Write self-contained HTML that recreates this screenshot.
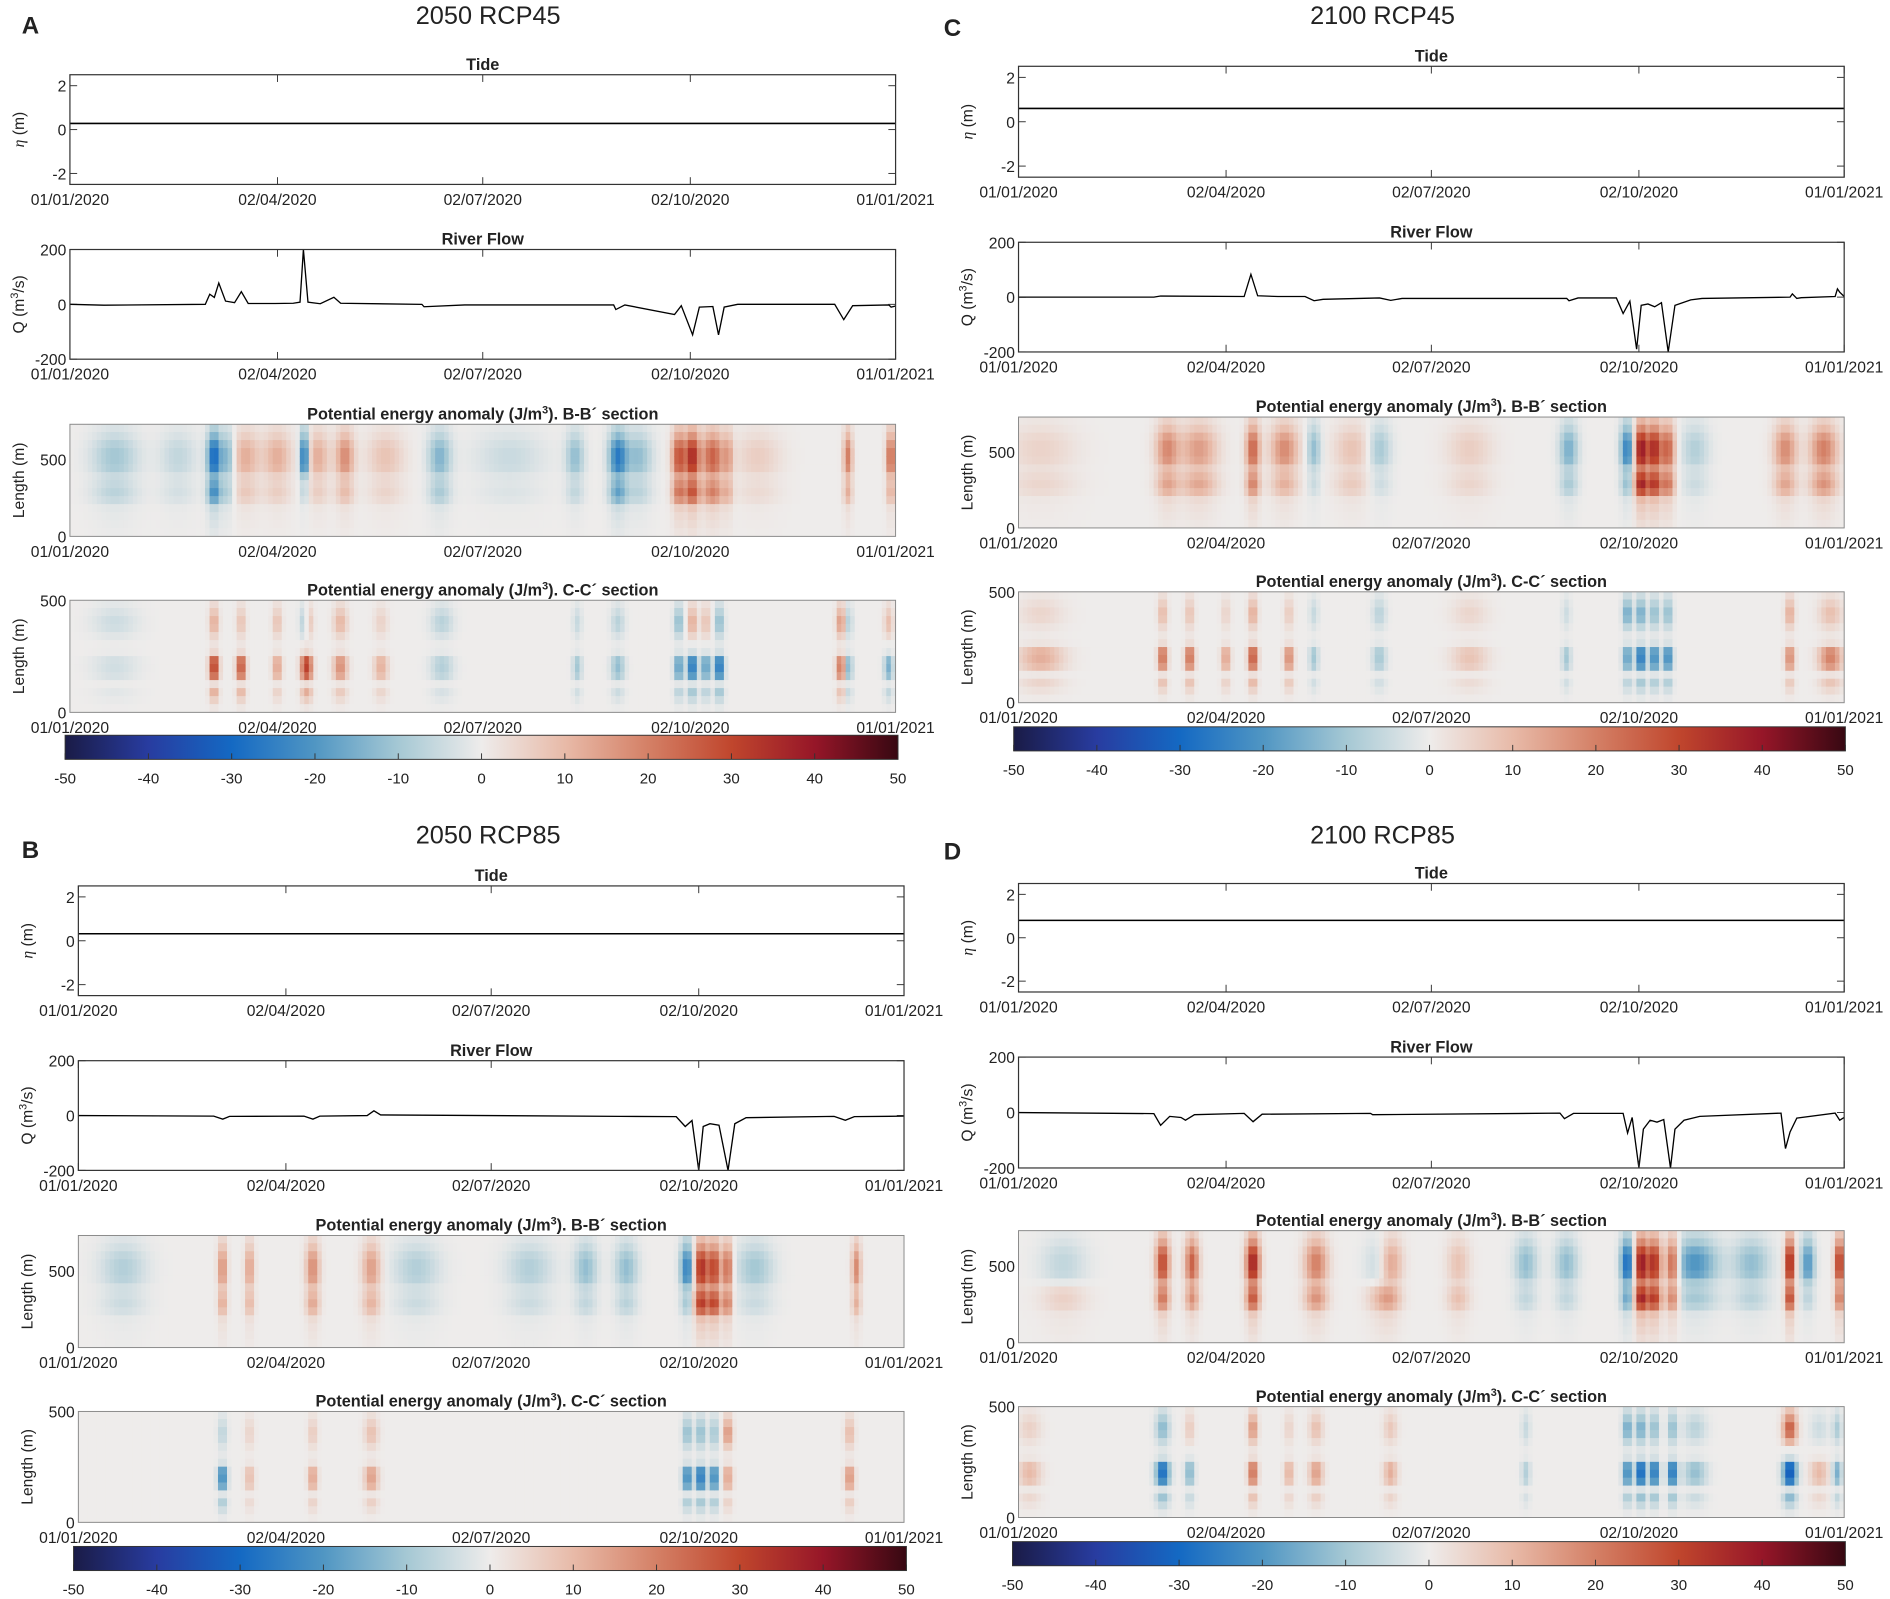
<!DOCTYPE html>
<html><head><meta charset="utf-8">
<style>
html,body{margin:0;padding:0;background:#fff;}
svg{display:block;}
text{font-family:"Liberation Sans",sans-serif;fill:#222;}
</style></head>
<body>
<svg id="fig" width="1890" height="1599" viewBox="0 0 1568 1326.6" xmlns="http://www.w3.org/2000/svg"></svg>
<script>
// ---------- data ----------
const dateTickDays = [0, 92, 183, 275, 366];
const dateTickLabels = ["01/01/2020","02/04/2020","02/07/2020","02/10/2020","01/01/2021"];
const cbarTicks = [-50,-40,-30,-20,-10,0,10,20,30,40,50];
const tideLevelA = 0.28, tideLevelB = 0.32, tideLevelC = 0.6, tideLevelD = 0.8;
// river flow [day, Q]
const riverA = [[0,0],[15,-3],[60,0],[62,37],[64,25],[66,78],[69,12],[73,6],[76,46],[79,3],[91,3],[99,4],[102,8],[103.5,200],[105.5,8],[111,2],[117,26],[120,4],[156,0],[157,-9],[175,-2],[241,-2],[242,-19],[246,-2],[268,-37],[271,-5],[276,-111],[279,-10],[285,-8],[287.5,-111],[290,-10],[296,0],[339,0],[343,-56],[347,-5],[363,-2],[364,-10],[366,-6]];
const riverB = [[0,0],[60,-2],[64,-13],[67,-3],[100,-2],[104,-13],[107,-2],[128,0],[131,17],[134,2],[240,-3],[265,-4],[269,-40],[272,-18],[275,-200],[277,-40],[280,-30],[284,-35],[288,-200],[291,-30],[296,-8],[335,-3],[340,-17],[344,-4],[366,-2]];
const riverC = [[0,0],[60,0],[63,4],[100,2],[103,83],[106,5],[115,2],[127,2],[131,-13],[135,-8],[160,-3],[165,-12],[170,-5],[243,-5],[244,-13],[248,-3],[265,-3],[268,-60],[271,-15],[274,-190],[276,-30],[279,-25],[282,-35],[285,-20],[288,-200],[291,-30],[298,-10],[303,-5],[342,0],[343,12],[345,-5],[347,-2],[362,2],[363,30],[364,18],[366,2]];
const riverD = [[0,0],[60,-4],[63,-46],[67,-14],[72,-18],[74,-28],[78,-8],[100,-3],[104,-33],[108,-6],[156,-3],[157,-8],[240,-2],[242,-22],[246,-3],[268,-3],[270,-74],[272,-18],[275,-200],[277,-60],[280,-28],[283,-35],[286,-25],[289,-200],[291,-60],[295,-28],[302,-14],[338,-2],[340,-130],[342,-70],[345,-20],[362,-2],[364,-28],[366,-18]];
// heatmap events [day, amplitude band1, amplitude band2, width(days)]
const bbA = [[20,-10,-6,10],[48,-6,-3,8],[64,-30,-20,3],[70,-15,-8,3],[78,12,6,6],[92,12,5,6],[104,-30,-5,2],[110,12,5,5],[122,18,8,4],[140,8,4,8],[164,-14,-8,5],[195,-5,-2,15],[224,-12,-5,4],[243,-25,-15,4],[252,-12,-6,6],[270,28,20,3],[276,35,25,3],[285,25,18,5],[292,12,8,2],[305,6,3,10],[345,20,10,2],[364,25,10,2]];
const ccA = [[20,-5,-4,10],[64,15,35,2],[76,10,30,2],[92,10,15,2],[104,-10,20,2],[106,10,20,2],[120,12,18,3],[138,6,12,3],[165,-8,-8,5],[225,-6,-10,2],[243,-8,-12,3],[270,-15,-20,2],[276,15,-30,2],[282,10,-20,2],[288,-15,-30,2],[342,20,25,2],[345,-10,-15,2],[363,10,-15,2]];
const bbB = [[20,-8,-4,10],[64,18,12,2],[76,15,10,2],[104,18,12,3],[130,15,10,4],[150,-8,-4,10],[200,-8,-4,10],[225,-12,-5,5],[243,-12,-6,5],[270,-25,-8,3],[276,35,30,3],[282,30,28,3],[288,25,20,2],[300,-10,-4,8],[345,18,10,2]];
const ccB = [[64,-8,-25,2],[76,6,10,2],[104,8,15,2],[130,10,15,3],[270,-15,-25,2],[276,-15,-30,2],[282,-12,-25,2],[288,20,15,2],[342,12,18,2]];
const bbC = [[10,5,4,15],[66,18,12,5],[80,15,12,8],[104,25,18,3],[118,18,10,6],[131,-12,-4,3],[148,8,6,8],[160,-10,-4,5],[200,6,4,10],[244,-15,-8,4],[270,-25,-10,3],[276,40,35,3],[282,35,30,3],[288,25,20,3],[300,-8,-4,6],[340,18,12,5],[357,20,15,6]];
const ccC = [[10,5,12,10],[64,12,25,2],[76,10,25,2],[92,6,15,2],[104,15,30,2],[120,8,20,2],[131,-6,-10,2],[160,-8,-10,3],[200,5,8,8],[243,-5,-10,2],[270,-20,-20,2],[276,-20,-30,2],[282,-15,-25,2],[288,-15,-25,2],[342,15,20,2],[360,10,20,5]];
const bbD = [[20,-6,6,10],[64,30,20,3],[77,25,15,3],[104,38,25,3],[132,20,15,5],[160,-6,8,6],[165,15,10,5],[195,8,8,5],[225,-12,-5,5],[243,-12,-5,5],[270,-30,-15,3],[276,40,35,3],[282,35,30,3],[290,30,20,3],[300,-20,-8,10],[325,-12,-6,8],[342,40,30,2],[350,-20,-5,3],[364,35,20,2]];
const ccD = [[5,6,10,5],[64,-15,-30,3],[76,8,-15,2],[104,20,25,2],[120,6,12,2],[132,10,15,3],[165,8,12,3],[225,-6,-8,2],[270,-20,-25,2],[276,-20,-35,2],[282,-15,-30,2],[290,-15,-30,2],[300,-8,-12,5],[342,30,-35,3],[355,-5,10,4],[363,-10,-15,2]];

// ---------- layout ----------
const panels = [
 {id:'a',letter:'A',title:'2050 RCP45',tx:405,ty:20,lx:18,ly:28,x0:58,x1:743,tide:[62,153],river:[207,298],bb:[352,445],cc:[498,591],cb:[54,745,610,630],tl:tideLevelA,rv:riverA,bbE:bbA,ccE:ccA},
 {id:'b',letter:'B',title:'2050 RCP85',tx:405,ty:700,lx:18,ly:712,x0:65,x1:750,tide:[735,826],river:[880,971],bb:[1025,1118],cc:[1171,1263],cb:[61,752,1283,1303],tl:tideLevelB,rv:riverB,bbE:bbB,ccE:ccB},
 {id:'c',letter:'C',title:'2100 RCP45',tx:1147,ty:20,lx:783,ly:30,x0:845,x1:1530,tide:[55,147],river:[201,292],bb:[346,438],cc:[491,583],cb:[841,1531,603,623],tl:tideLevelC,rv:riverC,bbE:bbC,ccE:ccC},
 {id:'d',letter:'D',title:'2100 RCP85',tx:1147,ty:700,lx:783,ly:713,x0:845,x1:1530,tide:[733,823],river:[877,969],bb:[1021,1114],cc:[1167,1259],cb:[840,1531,1279,1299],tl:tideLevelD,rv:riverD,bbE:bbD,ccE:ccD}
];
const NS='http://www.w3.org/2000/svg';
const svg=document.getElementById('fig');
function mk(tag,attrs,parent){const e=document.createElementNS(NS,tag);for(const k in attrs)e.setAttribute(k,attrs[k]);(parent||svg).appendChild(e);return e;}
const cstops=[[-50,[26,27,70]],[-40,[40,60,160]],[-30,[20,105,195]],[-20,[80,150,195]],[-10,[165,200,212]],[0,[238,236,235]],[10,[232,186,168]],[20,[212,128,102]],[30,[192,70,45]],[40,[150,22,40]],[50,[55,8,18]]];
function cmap(v){v=Math.max(-50,Math.min(50,v));for(let i=0;i<cstops.length-1;i++){const a=cstops[i],b=cstops[i+1];if(v<=b[0]){const t=(v-a[0])/(b[0]-a[0]);const c=a[1].map((x,j)=>Math.round(x+(b[1][j]-x)*t));return `rgb(${c[0]},${c[1]},${c[2]})`;}}return 'rgb(55,8,18)';}

function dateAxis(p,g,y0,y1,name,withTop){
  const X=d=>p.x0+d/366*(p.x1-p.x0);
  dateTickDays.forEach((d,i)=>{
    const t=mk('text',{x:X(d),y:y1+17,'font-size':13,'text-anchor':'middle'},g);
    
    
    t.textContent=dateTickLabels[i];
    if(withTop){
      const l=mk('line',{x1:X(d),x2:X(d),y1:y1,y2:y1-6,stroke:'#333','stroke-width':0.8},g);
      
      
      const l2=mk('line',{x1:X(d),x2:X(d),y1:y0,y2:y0+6,stroke:'#333','stroke-width':0.8},g);
      
      
    }
  });
}
function yLabel(p,g,y0,y1,txt,name){
  const cx=p.x0-38,cy=(y0+y1)/2;
  const t=mk('text',{x:cx,y:cy,'font-size':13,'text-anchor':'middle',transform:`rotate(-90 ${cx} ${cy})`},g);
  
  
  t.innerHTML=txt;
}
function yTicks(p,g,y0,y1,vmin,vmax,ticks,name,inner){
  const Y=v=>y1-(v-vmin)/(vmax-vmin)*(y1-y0);
  ticks.forEach(v=>{
    const t=mk('text',{x:p.x0-3,y:Y(v)+5,'font-size':13,'text-anchor':'end'},g);
    
    
    t.textContent=v;
    if(inner){
      const l=mk('line',{x1:p.x0,x2:p.x0+6,y1:Y(v),y2:Y(v),stroke:'#333','stroke-width':0.8},g);
      
      
      const l2=mk('line',{x1:p.x1,x2:p.x1-6,y1:Y(v),y2:Y(v),stroke:'#333','stroke-width':0.8},g);
      
      
    }
  });
  return Y;
}
function subTitle(p,g,y0,html,name){
  const t=mk('text',{x:(p.x0+p.x1)/2,y:y0-4,'font-size':13.5,'font-weight':'bold','text-anchor':'middle'},g);
  
  
  t.innerHTML=html;
}
function heat(p,g,y0,y1,ymax,events,profile,name){
  const X=d=>p.x0+d/366*(p.x1-p.x0);
  const ncol=183, rows=profile.length;
  const rh=(y1-y0)/rows, cw=(p.x1-p.x0)/ncol;
  for(let c=0;c<ncol;c++){
    const day=(c+0.5)*2;
    let a1=0,a2=0;
    events.forEach(e=>{const z=(day-e[0])/e[3];const w=Math.exp(-z*z);a1+=e[1]*w;a2+=e[2]*w;});
    for(let r=0;r<rows;r++){
      const pr=profile[r];
      const v=a1*pr[0]+a2*pr[1];
      const rc=mk('rect',{x:X(c*2)-0.2,y:y0+r*rh-0.2,width:cw+0.4,height:rh+0.4,fill:cmap(v)},g);
      
      
    }
  }
}
// vertical profiles (top->bottom rows) [weight band1, weight band2]
const bbProfile=[[0.3,0],[0.5,0],[0.8,0],[1,0],[1,0],[0.9,0],[0.4,0.2],[0.1,0.8],[0.1,1],[0.05,0.8],[0,0.3],[0,0.2],[0,0.15],[0,0.1]];
const ccProfile=[[0.3,0],[0.6,0],[0.9,0],[0.8,0],[0.4,0],[0.05,0.05],[0,0.15],[0,0.9],[0,1],[0,0.8],[0,0.1],[0,0.4],[0,0.2],[0,0.05]];

panels.forEach(p=>{
  const g=mk('g',{});
  
  
  const T=mk('text',{x:p.tx,y:p.ty,'font-size':21,'text-anchor':'middle'},g);
  
  
  T.textContent=p.title;
  const L=mk('text',{x:p.lx,y:p.ly,'font-size':20,'font-weight':'bold'},g);
  
  
  L.textContent=p.letter;
  const X=d=>p.x0+d/366*(p.x1-p.x0);
  // Tide
  let [y0,y1]=p.tide;
  subTitle(p,g,y0,'Tide','tide-title');
  const Yt=yTicks(p,g,y0,y1,-2.5,2.5,[2,0,-2],'tide',true);
  const tl=mk('line',{x1:p.x0,x2:p.x1,y1:Yt(p.tl),y2:Yt(p.tl),stroke:'#000','stroke-width':1.3},g);
  
  
  const tb=mk('rect',{x:p.x0,y:y0,width:p.x1-p.x0,height:y1-y0,fill:'none',stroke:'#333','stroke-width':1},g);
  
  
  dateAxis(p,g,y0,y1,'tide',true);
  yLabel(p,g,y0,y1,'<tspan font-style="italic" font-family="Liberation Serif">η</tspan> (m)','tide-y-axis-title');
  // River
  [y0,y1]=p.river;
  subTitle(p,g,y0,'River Flow','river-title');
  const Yr=yTicks(p,g,y0,y1,-200,200,[200,0,-200],'river',true);
  const pts=p.rv.map(q=>X(q[0]).toFixed(1)+','+Yr(Math.max(-200,Math.min(200,q[1]))).toFixed(1)).join(' ');
  const pl=mk('polyline',{points:pts,fill:'none',stroke:'#000','stroke-width':1.1},g);
  
  
  const rb=mk('rect',{x:p.x0,y:y0,width:p.x1-p.x0,height:y1-y0,fill:'none',stroke:'#333','stroke-width':1},g);
  
  
  dateAxis(p,g,y0,y1,'river',true);
  yLabel(p,g,y0,y1,'Q (m<tspan baseline-shift="super" font-size="9">3</tspan>/s)','river-y-axis-title');
  // BB heatmap
  [y0,y1]=p.bb;
  subTitle(p,g,y0,'Potential energy anomaly (J/m<tspan baseline-shift="super" font-size="9">3</tspan>). B-B´ section','bb-title');
  heat(p,g,y0,y1,730,p.bbE,bbProfile,'bb-heatmap');
  yTicks(p,g,y0,y1,0,730,[500,0],'bb',false);
  const bb=mk('rect',{x:p.x0,y:y0,width:p.x1-p.x0,height:y1-y0,fill:'none',stroke:'#888','stroke-width':0.8},g);
  
  
  dateAxis(p,g,y0,y1,'bb',false);
  yLabel(p,g,y0,y1,'Length (m)','bb-y-axis-title');
  // CC heatmap
  [y0,y1]=p.cc;
  subTitle(p,g,y0,'Potential energy anomaly (J/m<tspan baseline-shift="super" font-size="9">3</tspan>). C-C´ section','cc-title');
  heat(p,g,y0,y1,500,p.ccE,ccProfile,'cc-heatmap');
  yTicks(p,g,y0,y1,0,500,[500,0],'cc',false);
  const cb=mk('rect',{x:p.x0,y:y0,width:p.x1-p.x0,height:y1-y0,fill:'none',stroke:'#888','stroke-width':0.8},g);
  
  
  dateAxis(p,g,y0,y1,'cc',false);
  yLabel(p,g,y0,y1,'Length (m)','cc-y-axis-title');
  // Colorbar
  const [cx0,cx1,cy0,cy1]=p.cb;
  const gid='grad'+p.id;
  const defs=mk('defs',{},g);
  const lg=mk('linearGradient',{id:gid,x1:0,x2:1,y1:0,y2:0},defs);
  cstops.forEach(s=>{mk('stop',{offset:((s[0]+50)/100),'stop-color':cmap(s[0])},lg);});
  const cr=mk('rect',{x:cx0,y:cy0,width:cx1-cx0,height:cy1-cy0,fill:`url(#${gid})`,stroke:'#333','stroke-width':0.8},g);
  
  
  const CX=v=>cx0+(v+50)/100*(cx1-cx0);
  cbarTicks.forEach(v=>{
    const l=mk('line',{x1:CX(v),x2:CX(v),y1:cy1,y2:cy1-5,stroke:'#333','stroke-width':0.8},g);
    
    
    const t=mk('text',{x:CX(v),y:cy1+20,'font-size':12.5,'text-anchor':'middle'},g);
    
    
    t.textContent=v;
  });
});
</script>
</body></html>
